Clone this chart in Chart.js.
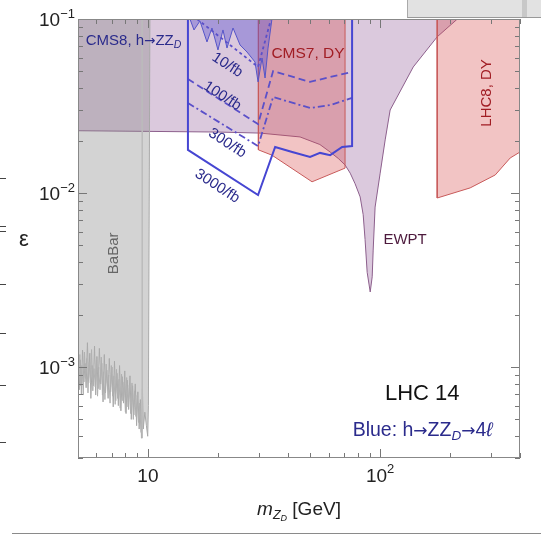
<!DOCTYPE html>
<html lang="en">
<head>
<meta charset="UTF-8">
<title>Z_D reach, LHC 14</title>
<script src="https://cdn.jsdelivr.net/npm/chart.js"></script>
<style>
  body { margin: 0; background: #fff; }
  #wrap { position: relative; width: 541px; height: 537px; overflow: hidden; }
  .scrap { position: absolute; }
  .dash { position: absolute; left: 0; width: 6px; height: 1px; background: #444; }
</style>
</head>
<body>
<div id="wrap">
  <canvas id="chart" width="541" height="537"></canvas>
  <!-- bits of the neighbouring figure that got cropped in -->
  <div class="scrap" style="left:407px;top:0;width:134px;height:17px;background:#e2e2e2;border-left:1px solid #aaa;border-bottom:1px solid #999;"></div>
  <div class="scrap" style="left:522px;top:0;width:5px;height:17px;background:#c8c8c8;"></div>
  <div class="scrap" style="left:12px;top:533px;width:529px;height:1px;background:#8a8a8a;"></div>
  <div class="dash" style="top:178px"></div>
  <div class="dash" style="top:226px"></div>
  <div class="dash" style="top:231px"></div>
  <div class="dash" style="top:284px"></div>
  <div class="dash" style="top:333px"></div>
  <div class="dash" style="top:385px"></div>
  <div class="dash" style="top:442px"></div>
</div>
<script>
// ---- data (m_ZD in GeV, epsilon) ----
const ewptM = [5, 10, 20, 30.4, 45.2, 55, 60.9, 66, 70.6, 74.3, 78, 82, 84.5, 86.1, 87.9, 90.6, 92.4, 93.3, 95.1, 100, 105.1, 110.4, 138.8, 176, 215];
const ewptE = [0.0228, 0.0226, 0.0224, 0.0221, 0.0210, 0.0190, 0.0172, 0.0158, 0.0145, 0.0130, 0.0113, 0.0095, 0.0075, 0.0054, 0.0035, 0.0027, 0.0033, 0.0047, 0.0083, 0.0130, 0.0202, 0.030, 0.053, 0.079, 0.1];

const cms7M = [29.9, 29.9, 34.2, 50.9, 70.6, 70.6];
const cms7E = [0.1, 0.0177, 0.0165, 0.0116, 0.0139, 0.1];

const lhc8M = [176, 176, 244, 313, 363, 400, 400];
const lhc8E = [0.1, 0.00936, 0.0107, 0.0127, 0.0159, 0.0172, 0.1];

const cms8M = [15.17, 15.79, 16.75, 17.96, 18.87, 20.03, 21.05, 21.9, 23.25, 24.93, 26.71, 28.92, 29.8, 31.0, 31.94, 32.9, 34.2];
const cms8E = [0.1, 0.0865, 0.0974, 0.0738, 0.0888, 0.0664, 0.0865, 0.0681, 0.0888, 0.0709, 0.0646, 0.0566, 0.0435, 0.0597, 0.0458, 0.0681, 0.1];

const babarM = [5.00, 5.06, 5.12, 5.17, 5.23, 5.30, 5.36, 5.42, 5.49, 5.55, 5.62, 5.68, 5.75, 5.82, 5.89, 5.96,
  6.03, 6.10, 6.18, 6.26, 6.33, 6.41, 6.49, 6.57, 6.65, 6.74, 6.82, 6.91, 7.00, 7.09, 7.18, 7.27, 7.36, 7.46,
  7.55, 7.65, 7.75, 7.85, 7.95, 8.05, 8.15, 8.26, 8.37, 8.48, 8.59, 8.70, 8.82, 8.94, 9.05, 9.17, 9.28, 9.38,
  9.47, 9.55, 9.70, 9.85, 9.98, 10.05, 10.2];
const babarE = [1.30e-3, 7.4e-4, 1.10e-3, 7.0e-4, 1.25e-3, 8.2e-4, 1.05e-3, 7.6e-4, 1.38e-3, 8.4e-4, 1.20e-3, 6.6e-4, 1.02e-3, 7.8e-4, 1.32e-3, 6.9e-4,
  1.15e-3, 7.5e-4, 1.28e-3, 8.0e-4, 1.05e-3, 6.3e-4, 1.18e-3, 7.1e-4, 9.6e-4, 6.6e-4, 1.12e-3, 7.2e-4, 1.00e-3, 5.9e-4, 1.08e-3, 6.4e-4, 9.2e-4, 6.0e-4,
  1.02e-3, 5.6e-4, 8.8e-4, 6.2e-4, 9.5e-4, 5.4e-4, 8.4e-4, 5.7e-4, 8.9e-4, 5.0e-4, 7.8e-4, 5.3e-4, 8.0e-4, 4.6e-4, 7.2e-4, 4.4e-4, 6.5e-4, 3.9e-4,
  7.5e-4, 4.4e-4, 5.5e-4, 4.6e-4, 4.0e-4, 6.0e-4, 0.1];
// second scan of the same BaBar limit (the overlapping wiggles)
const babar2M = [5.03, 5.09, 5.14, 5.20, 5.27, 5.33, 5.39, 5.46, 5.52, 5.59, 5.65, 5.72, 5.79, 5.86, 5.93, 6.00,
  6.07, 6.14, 6.22, 6.30, 6.37, 6.45, 6.53, 6.61, 6.70, 6.78, 6.87, 6.96, 7.05, 7.14, 7.23, 7.32, 7.41, 7.51,
  7.60, 7.70, 7.80, 7.90, 8.00, 8.10, 8.21, 8.32, 8.43, 8.54, 8.65, 8.76, 8.88, 9.00, 9.11, 9.23, 9.33];
const babar2E = [9.0e-4, 1.18e-3, 7.8e-4, 1.02e-3, 6.9e-4, 1.22e-3, 8.6e-4, 1.12e-3, 7.1e-4, 1.06e-3, 8.1e-4, 1.26e-3, 7.3e-4, 9.8e-4, 7.7e-4, 1.10e-3,
  6.8e-4, 1.00e-3, 7.4e-4, 1.14e-3, 6.9e-4, 9.4e-4, 6.5e-4, 1.04e-3, 7.6e-4, 9.0e-4, 6.2e-4, 1.02e-3, 6.8e-4, 8.9e-4, 6.1e-4, 9.7e-4, 6.6e-4, 8.5e-4,
  5.8e-4, 9.1e-4, 6.4e-4, 8.2e-4, 5.5e-4, 8.7e-4, 5.9e-4, 7.9e-4, 5.4e-4, 8.1e-4, 5.0e-4, 7.3e-4, 5.2e-4, 6.9e-4, 4.8e-4, 6.2e-4, 4.2e-4];
const babarSpikeM = [9.45, 9.45];
const babarSpikeE = [0.1, 3.9e-4];

// HL/LHC 14 projections for h -> Z Z_D -> 4l
const p3000M = [14.87, 14.87, 29.8, 35.3, 41.8, 49.9, 55.1, 60.9, 68.6, 75.7, 75.7];
const p3000E = [0.1, 0.0177, 0.00974, 0.0184, 0.0172, 0.0161, 0.0170, 0.0165, 0.0184, 0.0186, 0.1];
const p300M = [14.87, 29.8, 34.6, 49.9, 60.9, 75.7];
const p300E = [0.0329, 0.0186, 0.0356, 0.0308, 0.0320, 0.0352];
const p100M = [14.87, 29.8, 34.6, 49.9, 60.9, 75.7];
const p100E = [0.0452, 0.0249, 0.0502, 0.0435, 0.0464, 0.0496];
const p10M = [16.26, 29.8, 33.9];
const p10E = [0.1, 0.053, 0.1];

const xTickVals = [5, 6, 7, 8, 9, 10, 20, 30, 40, 50, 60, 70, 80, 90, 100, 200, 300, 400];
const xTickMajor = [10, 100];
const xTickText = { 10: ['10', ''], 100: ['10', '2'] };
const yTickVals = [3e-4, 4e-4, 5e-4, 6e-4, 7e-4, 8e-4, 9e-4, 1e-3, 2e-3, 3e-3, 4e-3, 5e-3, 6e-3, 7e-3, 8e-3, 9e-3,
  1e-2, 2e-2, 3e-2, 4e-2, 5e-2, 6e-2, 7e-2, 8e-2, 9e-2, 1e-1];
const yTickMajor = [1e-3, 1e-2, 1e-1];
const yTickText = { 0.001: '\u22123', 0.01: '\u22122', 0.1: '\u22121' };

// ---- text on the plot, anchored in data space ----
const FAM = '"Liberation Sans", Arial, sans-serif';
const ARW = '"DejaVu Sans", sans-serif';
const navy = '#2b2b8c', brick = '#a11d24';
const notes = [
  { parts: [['CMS8, h', 15], ['\u2192', 13.5, 0, false, ARW], ['ZZ', 15], ['D', 10.5, 3, true]], m: 5.4, e: 0.0757, align: 'left', color: navy },
  { parts: [['CMS7, DY', 15.5]], m: 48.9, e: 0.0646, color: brick },
  { parts: [['LHC8, DY', 15]], m: 283.6, e: 0.0376, rot: -90, color: brick },
  { parts: [['EWPT', 15]], m: 128, e: 0.00544, color: '#4d1a3d' },
  { parts: [['BaBar', 15]], m: 7.07, e: 0.0045, rot: -90, color: '#666' },
  { parts: [['LHC 14', 22]], m: 151.7, e: 7.18e-4, color: '#111' },
  { parts: [['Blue: h', 19.5], ['\u2192', 17, 0, false, ARW], ['ZZ', 19.5], ['D', 13.5, 4, true], ['\u2192', 17, 0, false, ARW], ['4', 19.5], ['\u2113', 19.5, 0, true]],
    m: 152.3, e: 4.4e-4, color: navy },
  { parts: [['10/fb', 15]], m: 22.1, e: 0.0551, rot: 33, color: navy },
  { parts: [['100/fb', 15]], m: 21.05, e: 0.0366, rot: 33, color: navy },
  { parts: [['300/fb', 15]], m: 22.1, e: 0.0196, rot: 33, color: navy },
  { parts: [['3000/fb', 15]], m: 20.03, e: 0.0111, rot: 33, color: navy }
];

const pts = (ms, es) => ms.map((m, i) => ({ x: m, y: es[i] }));

function region(ms, es, fillCol, edgeCol, w) {
  return { data: pts(ms, es), showLine: true, fill: 'end', backgroundColor: fillCol,
    borderColor: edgeCol, borderWidth: w, pointRadius: 0, tension: 0 };
}
function curve(ms, es, col, w, dash) {
  return { data: pts(ms, es), showLine: true, fill: false, borderColor: col,
    borderWidth: w, borderDash: dash, pointRadius: 0, tension: 0 };
}

function font(size, italic, fam) {
  return (italic ? 'italic ' : '') + size + 'px ' + (fam || FAM);
}

// draws a run of [text, size, dy, italic, family] pieces, baseline at y
function drawRich(ctx, parts, x, y, align) {
  let w = 0;
  parts.forEach(p => { ctx.font = font(p[1], p[3], p[4]); w += ctx.measureText(p[0]).width; });
  let cx = align === 'left' ? x : align === 'right' ? x - w : x - w / 2;
  ctx.textBaseline = 'alphabetic';
  ctx.textAlign = 'left';
  parts.forEach(p => {
    ctx.font = font(p[1], p[3], p[4]);
    ctx.fillText(p[0], cx, y + (p[2] || 0));
    cx += ctx.measureText(p[0]).width;
  });
}

const frame = {
  id: 'frame',
  afterDraw(chart) {
    const { ctx, chartArea: a, scales: { x, y } } = chart;
    ctx.save();

    // inward ticks on all four sides
    ctx.strokeStyle = '#777';
    ctx.lineWidth = 1;
    ctx.beginPath();
    xTickVals.forEach(v => {
      const px = Math.round(x.getPixelForValue(v)) + 0.5;
      const len = xTickMajor.includes(v) ? 9 : 5;
      ctx.moveTo(px, a.bottom); ctx.lineTo(px, a.bottom - len);
      ctx.moveTo(px, a.top); ctx.lineTo(px, a.top + len);
    });
    yTickVals.forEach(v => {
      const py = Math.round(y.getPixelForValue(v)) + 0.5;
      const len = yTickMajor.includes(v) ? 9 : 5;
      ctx.moveTo(a.left, py); ctx.lineTo(a.left + len, py);
      ctx.moveTo(a.right, py); ctx.lineTo(a.right - len, py);
    });
    ctx.stroke();

    ctx.strokeStyle = '#888';
    ctx.strokeRect(a.left + 0.5, a.top + 0.5, a.right - a.left - 1, a.bottom - a.top - 1);

    // tick labels
    ctx.fillStyle = '#222';
    xTickMajor.forEach(v => {
      const t = xTickText[v];
      const parts = [[t[0], 19]];
      if (t[1]) parts.push([t[1], 13, -9]);
      drawRich(ctx, parts, x.getPixelForValue(v), a.bottom + 24, 'center');
    });
    yTickMajor.forEach(v => {
      drawRich(ctx, [['10', 19], [yTickText[v], 13, -8]], a.left - 3, y.getPixelForValue(v) + 7, 'right');
    });

    // axis titles
    drawRich(ctx, [['m', 19, 0, true], ['Z', 12.5, 4, true], ['D', 9, 6, true], [' [GeV]', 19]],
      (a.left + a.right) / 2, a.bottom + 57, 'center');
    drawRich(ctx, [['\u03b5', 22]], a.left - 54, (a.top + a.bottom) / 2 + 7, 'center');

    // annotations
    notes.forEach(n => {
      const px = x.getPixelForValue(n.m), py = y.getPixelForValue(n.e);
      const big = Math.max(...n.parts.map(p => p[1]));
      ctx.save();
      ctx.fillStyle = n.color;
      ctx.translate(px, py);
      if (n.rot) ctx.rotate(n.rot * Math.PI / 180);
      drawRich(ctx, n.parts, 0, 0.36 * big, n.align || 'center');
      ctx.restore();
    });

    ctx.restore();
  }
};

new Chart(document.getElementById('chart'), {
  type: 'scatter',
  data: {
    datasets: [
      curve(p3000M, p3000E, '#4646d2', 2, []),
      curve(p300M, p300E, '#5b50c9', 1.8, [7, 3, 2, 3]),
      curve(p100M, p100E, '#5b50c9', 1.8, [7, 4]),
      curve(p10M, p10E, '#5b50c9', 1.8, [3, 3]),
      region(cms8M, cms8E, 'rgba(90, 80, 210, 0.4)', '#5555c8', 1),
      region(cms7M, cms7E, 'rgba(215, 70, 70, 0.32)', '#c85a5a', 1),
      region(lhc8M, lhc8E, 'rgba(215, 70, 70, 0.32)', '#c85a5a', 1),
      curve(babarSpikeM, babarSpikeE, '#bcbcbc', 1.5, []),
      curve(babar2M, babar2E, '#b0b0b0', 1, []),
      region(babarM, babarE, 'rgba(140, 140, 140, 0.38)', '#a9a9a9', 1),
      region(ewptM, ewptE, 'rgba(175, 135, 180, 0.45)', '#8c5f8c', 1)
    ]
  },
  options: {
    responsive: false,
    animation: false,
    layout: { padding: { top: 19, right: 21, left: 0, bottom: 0 } },
    plugins: { legend: { display: false }, tooltip: { enabled: false } },
    scales: {
      x: {
        type: 'logarithmic', min: 5, max: 400,
        grid: { display: false }, border: { display: false }, ticks: { display: false },
        afterFit: s => { s.height = 79; }
      },
      y: {
        type: 'logarithmic', min: 3e-4, max: 0.1,
        grid: { display: false }, border: { display: false }, ticks: { display: false },
        afterFit: s => { s.width = 78; }
      }
    }
  },
  plugins: [frame]
});
</script>
</body>
</html>
